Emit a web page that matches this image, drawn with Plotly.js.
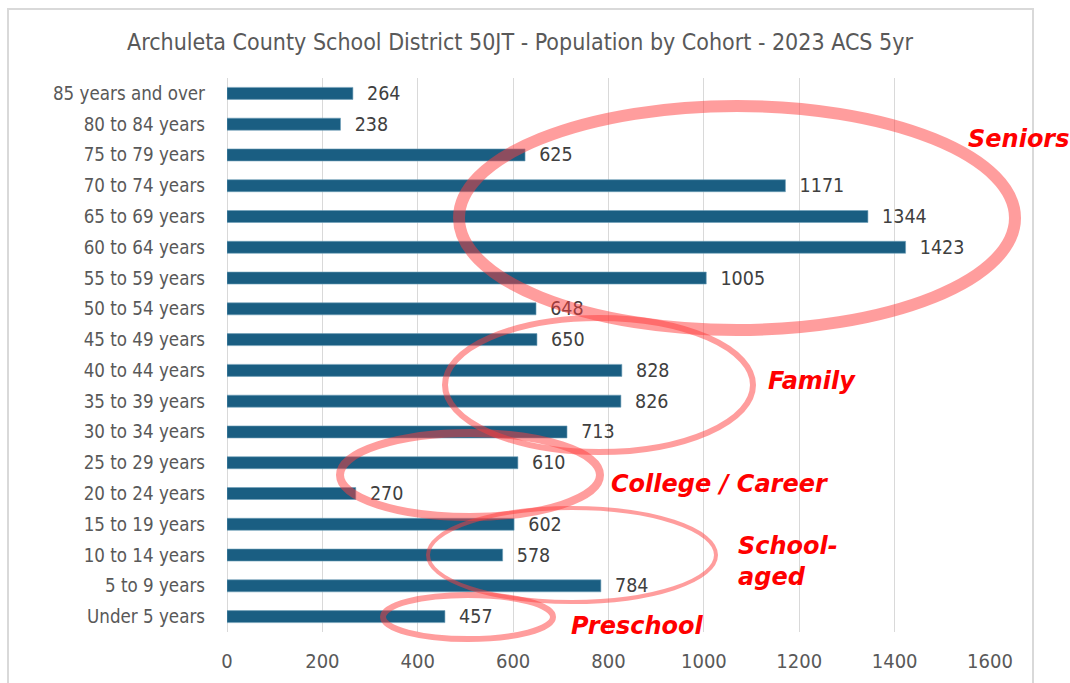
<!DOCTYPE html>
<html>
<head>
<meta charset="utf-8">
<script src="https://cdn.plot.ly/plotly-3.0.1.min.js"></script>
<style>html,body{margin:0;padding:0;background:#fff;}#chart{width:1070px;height:683px;}</style>
</head>
<body>
<div id="chart"></div>
<script>
// Data (top to bottom as shown)
const cohorts = ["85 years and over","80 to 84 years","75 to 79 years","70 to 74 years","65 to 69 years","60 to 64 years","55 to 59 years","50 to 54 years","45 to 49 years","40 to 44 years","35 to 39 years","30 to 34 years","25 to 29 years","20 to 24 years","15 to 19 years","10 to 14 years","5 to 9 years","Under 5 years"];
const population = [264,238,625,1171,1344,1423,1005,648,650,828,826,713,610,270,602,578,784,457];
const xTicks = [0,200,400,600,800,1000,1200,1400,1600];
const groupLabels = ["Seniors","Family","College / Career","School-<br>aged","Preschool"];

const W = 1070, H = 683;
const M = {l:227, r:80, t:78, b:51};
const PW = W - M.l - M.r, PH = H - M.t - M.b;
const px = x => (x - M.l) / PW;
const py = y => 1 - (y - M.t) / PH;

// ellipse outlines (pixel geometry): cx, cy, rx, ry, stroke width
const rings = [
  [737, 218, 278, 112, 12],
  [599, 385, 154, 67, 6],
  [470, 475, 130, 42, 8],
  [572, 555, 144, 47, 4],
  [468, 617, 85, 22, 6]
];
const shapes = rings.map(r => ({
  type:'circle', xref:'paper', yref:'paper',
  x0: px(r[0]-r[2]), x1: px(r[0]+r[2]), y0: py(r[1]+r[3]), y1: py(r[1]-r[3]),
  line:{color:'rgba(255,60,60,0.5)', width:r[4]}, layer:'above'
}));
shapes.push({type:'rect', xref:'paper', yref:'paper', x0:px(8), x1:px(1033), y0:py(690), y1:py(9),
  line:{color:'#d9d9d9', width:2}, layer:'below'});

const labelPos = [[1018,139,'center'],[812,381,'center'],[720,484,'center'],[736,561,'left'],[637,626,'center']];
const annotations = groupLabels.map((t,i) => ({
  text:'<b><i>'+t+'</i></b>', xref:'paper', yref:'paper',
  x: px(labelPos[i][0]), y: py(labelPos[i][1]), xanchor: labelPos[i][2], yanchor:'middle', align:'left',
  showarrow:false, font:{family:'DejaVu Sans', size:24, color:'#ff0000'}
}));

const font = "'DejaVu Sans Condensed', 'Liberation Sans', sans-serif";

Plotly.newPlot('chart', [{
  type:'bar', orientation:'h', y:cohorts, x:population,
  marker:{color:'#1a5e82', line:{color:'#6f9fb8', width:0.6}},
  text: population.map(v => '\u00a0\u00a0' + v), textposition:'outside', cliponaxis:false,
  constraintext:'none',
  textfont:{family:font, size:19.5, color:'#404040'},
  hoverinfo:'none'
}], {
  width:W, height:H, margin:M,
  paper_bgcolor:'#fff', plot_bgcolor:'#fff',
  bargap:0.61, showlegend:false,
  title:{text:'Archuleta County School District 50JT - Population by Cohort - 2023 ACS 5yr',
    font:{family:font, size:23, color:'#595959'}, x:520/W, xref:'container', xanchor:'center', y:1-42/H, yanchor:'middle'},
  xaxis:{range:[0,1600], tickvals:xTicks, ticktext:xTicks.map(String), showgrid:true, gridcolor:'#d9d9d9', gridwidth:1,
    zeroline:true, zerolinecolor:'#d9d9d9', zerolinewidth:1, showline:false, ticks:'',
    tickfont:{family:font, size:20, color:'#595959'}, ticklabelstandoff:15, fixedrange:true},
  yaxis:{categoryorder:'array', categoryarray:cohorts, autorange:'reversed', showgrid:false, showline:false, ticks:'',
    tickfont:{family:font, size:18.6, color:'#595959'}, ticklabelstandoff:21, fixedrange:true},
  shapes:shapes, annotations:annotations
}, {displayModeBar:false, staticPlot:true});
</script>
</body>
</html>
